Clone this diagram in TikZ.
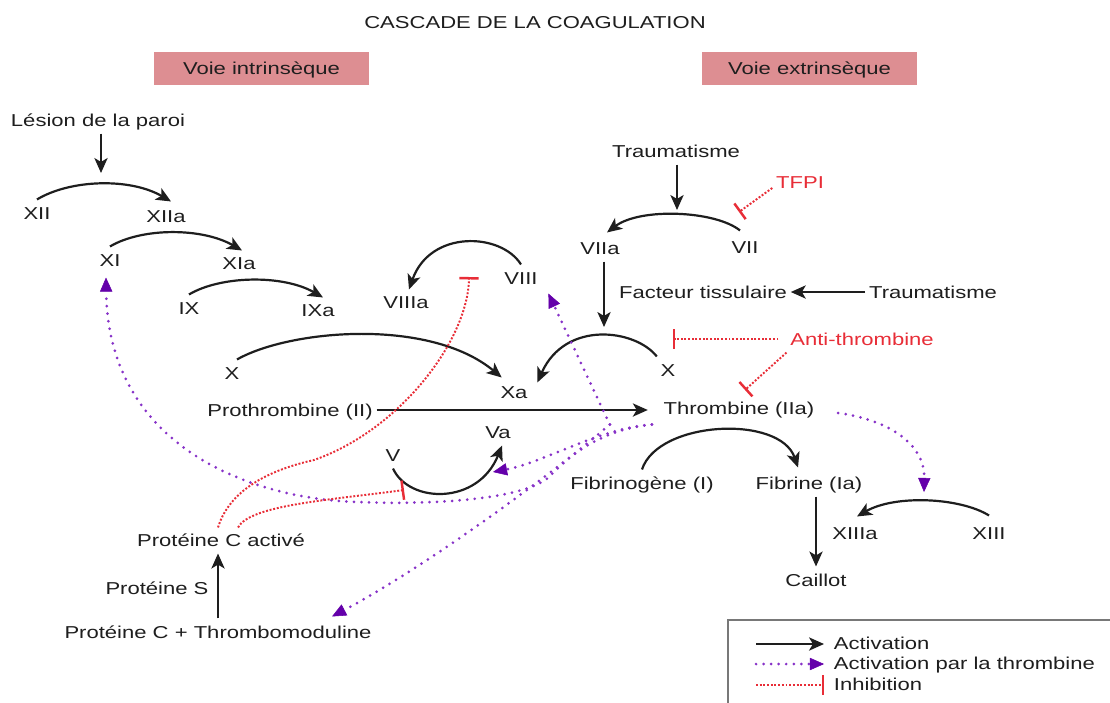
\documentclass[tikz,border=0pt]{standalone}
\usepackage{fontspec}
\setmainfont{Liberation Sans}[FakeStretch=1.28]
\usetikzlibrary{arrows.meta,calc}
\definecolor{ink}{RGB}{30,30,30}
\definecolor{inhib}{RGB}{232,45,55}
\definecolor{thromb}{RGB}{135,50,200}
\definecolor{thrombtip}{RGB}{100,0,170}
\definecolor{voie}{RGB}{221,142,146}
\definecolor{legendgray}{RGB}{120,120,120}
\tikzset{
  act/.style={ink, line width=1.25pt, -{Stealth[length=8.5pt,width=7.5pt,inset=2.2pt]}},
  parthr/.style={thromb, line width=1.7pt, line cap=round, dash pattern=on 0pt off 4.3pt,
    -{Triangle[length=8pt,width=7pt,color=thrombtip,line width=0.3pt]}},
  inh/.style={inhib, line width=1.1pt, densely dotted, -{Bar[width=11pt,line width=1.4pt]}},
  voiebox/.style={fill=voie, minimum width=43mm, minimum height=6.6mm},
}
\begin{document}
\begin{tikzpicture}[x=0.2mm, y=-0.2mm,
    every node/.style={font=\fontsize{9.8pt}{11pt}\selectfont, text=ink,
      text height=7pt, text depth=0pt, inner xsep=2pt, inner ysep=4pt}]
  \path[use as bounding box, fill=white] (0,0) rectangle (1110,702);

  \node (title) at (535,22) {CASCADE DE LA COAGULATION};
  \node[voiebox] (vint) at (261.5,68.5) {Voie intrinsèque};
  \node[voiebox] (vext) at (809.5,68.5) {Voie extrinsèque};

  % factors and other labels
  \foreach \nm/\txt/\px/\py in {
      lesion/Lésion de la paroi/98/120,
      xii/XII/37/213, xiia/XIIa/166/216,
      xi/XI/110/260, xia/XIa/239/263,
      ix/IX/189/308, ixa/IXa/318/310,
      viiia/VIIIa/406/302, viii/VIII/521/278,
      xl/X/232/373, xa/Xa/514/392,
      proth/Prothrombine (II)/290/410,
      va/Va/498/432, v/V/393/455,
      pca/Protéine C activé/221/540,
      ps/Protéine S/157/588,
      pctm/Protéine C + Thrombomoduline/218/632,
      traumi/Traumatisme/676/151,
      viia/VIIa/600/248, vii/VII/745/247,
      ft/Facteur tissulaire/703/292, traumii/Traumatisme/933/292,
      xr/X/668/370, thr/Thrombine (IIa)/739/408,
      fgn/Fibrinogène (I)/642/483, fbn/Fibrine (Ia)/809/483,
      caillot/Caillot/816/580,
      xiiia/XIIIa/855/533, xiii/XIII/989/533}
    \node (\nm) at (\px,\py) {\txt};
  \node[text=inhib] (tfpi) at (800,182) {TFPI};
  \node[text=inhib] (anti) at (862,339) {Anti-thrombine};

  % free ends of the connectors
  \coordinate (xiiin) at (101,173);
  \coordinate (viiin) at (677,210);
  \coordinate (xain) at (604,327);
  \coordinate (vain) at (493,472);
  \coordinate (xiiiin) at (924,492);
  \coordinate (inhvii) at (739,212);
  \coordinate (inhx) at (673,339);
  \coordinate (inhthr) at (745,390);
  \coordinate (inhviii) at (469,277);
  \coordinate (inhv) at (404,490);
  \coordinate (thra) at ($(thr.south west)+(-8,3)$);
  \coordinate (thrb) at ($(thr.south west)+(-50,3)$);
  \coordinate (thrc) at ($(thr.east)+(20,5)$);

  % activation
  \draw[act] (lesion.south -| xiiin) -- (xiiin);
  \draw[act] (traumi.south -| viiin) -- (viiin);
  \draw[act] (viia.south -| xain) -- (xain);
  \draw[act] (traumii.west) -- (ft.east);
  \draw[act, shorten >=2.4mm] (proth.east) -- (proth.east -| thr.west);
  \draw[act] (fbn.south -| caillot.north) -- (caillot.north);
  \draw[act] (pctm.north) -- (pctm.north |- pca.south);

  \draw[act] (xii.north) .. controls +(33,-20) and +(-41,-24) .. ($(xiia.north)+(5,-1)$);
  \draw[act] (xi.north) .. controls +(32,-19) and +(-40,-23) .. ($(xia.north)+(3,1)$);
  \draw[act] (ix.north) .. controls +(32,-19) and +(-40,-23) .. ($(ixa.north)+(5,1)$);
  \draw[act] (viii.north) .. controls +(-20,-32) and +(21,-60) .. ($(viiia.north)+(3,1)$);
  \draw[act] ($(xl.north)+(5,0)$) .. controls +(53,-30) and +(-72,-60) .. ($(xa.north west)+(5,-1)$);
  \draw[act] (xr.north west) .. controls +(-21,-27) and +(28,-63) .. ($(xa.north east)+(6,4)$);
  \draw[act] (v.south) .. controls +(16,35) and +(-24,60) .. ($(va.south)+(4,0)$);
  \draw[act] ($(vii.north)+(-5,-3)$) .. controls +(-25,-20) and +(33,-25) .. ($(viia.north)+(7,-2)$);
  \draw[act] (fgn.north) .. controls +(16,-49) and +(-18,-53) .. ($(fbn.north)+(-11,-2)$);
  \draw[act] ($(xiii.north)+(0,-4)$) .. controls +(-29,-18) and +(38,-22) .. ($(xiiia.north)+(2,-3)$);

  % activation by thrombin
  \draw[parthr] (thra) .. controls (600,430) and (570,455) .. (548,478)
    .. controls (520,500) and (430,505) .. (357,502)
    .. controls (240,498) and (108,440) .. ($(xi.south)+(-4,4)$);
  \draw[parthr] (thra) .. controls (600,428) and (545,462) .. (vain);
  \draw[parthr] (thrb) -- ($(viii.south east)+(7,2)$);
  \draw[parthr] (thrb) .. controls (545,480) and (420,570) .. ($(pctm.north)+(114,-2)$);
  \draw[parthr] (thrc) .. controls (890,420) and (925,445) .. (xiiiin);

  % inhibition
  \draw[inh] ($(tfpi.west)+(0,6)$) -- (inhvii);
  \draw[inh] ($(anti.west)+(-8,0)$) -- (inhx);
  \draw[inh] (anti.south west) -- (inhthr);
  \draw[inh] ($(pca.north)+(-3,1)$) .. controls (228,495) and (260,472) .. (314,460)
    .. controls (400,430) and (468,340) .. (inhviii);
  \draw[inh] ($(pca.north)+(17,1)$) .. controls (250,505) and (330,500) .. (inhv);

  % legend
  \draw[legendgray, line width=0.9pt] (1115,620) -- (728,620) -- (728,710);
  \foreach \st/\txt/\py [count=\k] in {act/Activation/643, parthr/Activation par la thrombine/663, inh/Inhibition/684}{
    \node[anchor=west] (leg\k) at (830,\py) {\txt};
    \draw[\st] ($(leg\k.west)+(-74,1)$) -- ($(leg\k.west)+(-6,1)$);
  }
\end{tikzpicture}
\end{document}
